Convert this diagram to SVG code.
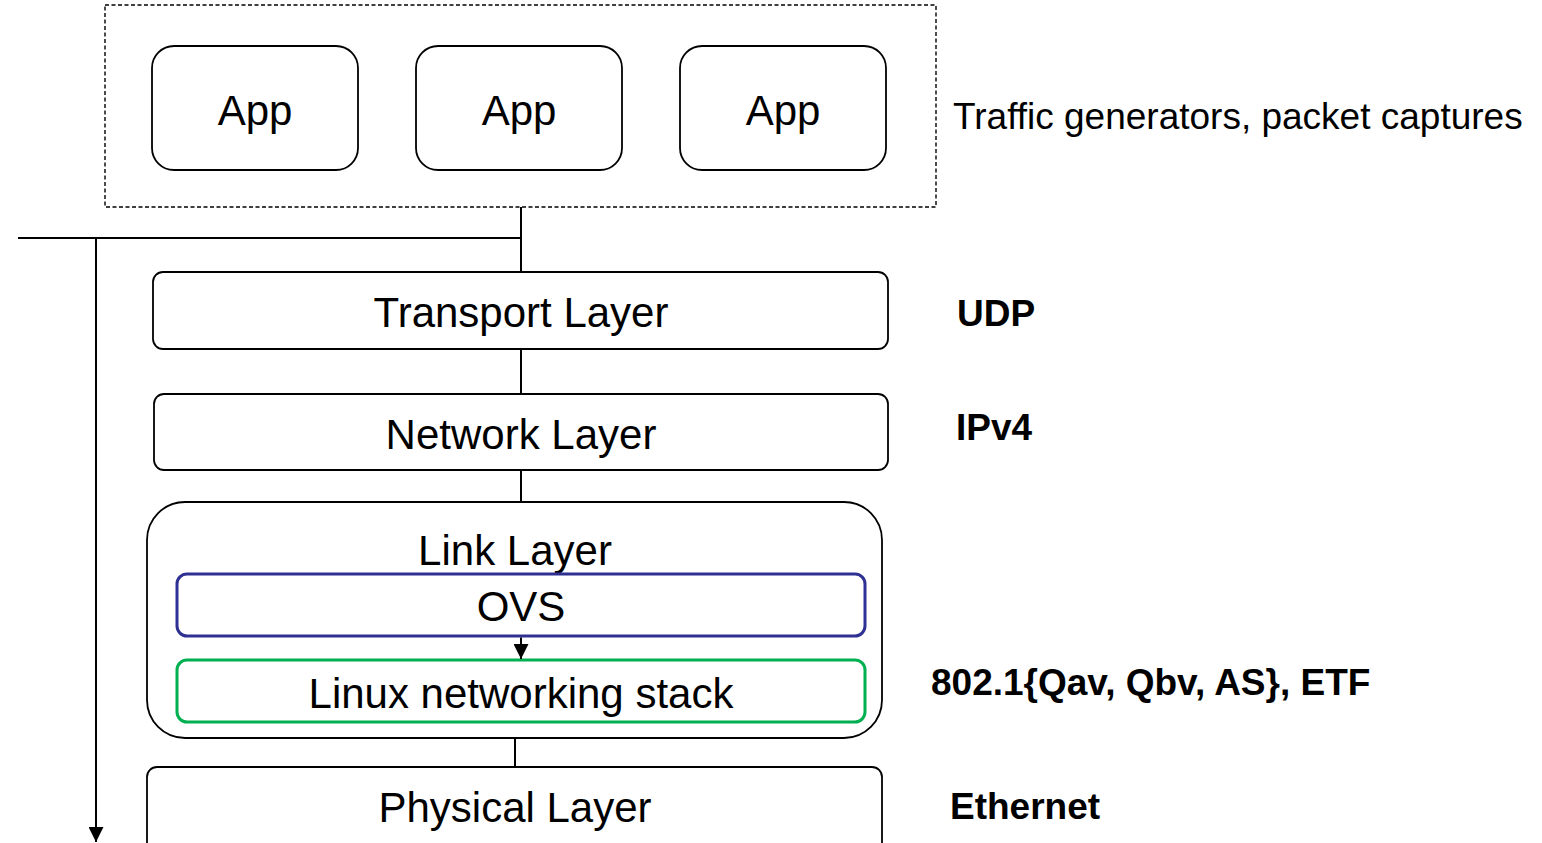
<svg xmlns="http://www.w3.org/2000/svg" width="1542" height="843" viewBox="0 0 1542 843">
  <style>
    .box { fill: #ffffff; stroke: #000000; stroke-width: 1.8; }
    .lbl { font-family: "Liberation Sans", Arial, sans-serif; fill: #000000; text-anchor: middle; }
    .side { font-family: "Liberation Sans", Arial, sans-serif; fill: #000000; }
    .bold { font-weight: bold; font-size: 37px; }
    .wire { stroke: #000000; stroke-width: 2; fill: none; }
  </style>
  <defs>
    <marker id="arrow" viewBox="0 0 15 15" refX="15" refY="7.5" markerWidth="15" markerHeight="15" markerUnits="userSpaceOnUse" orient="auto">
      <path d="M0,0 L15,7.5 L0,15 Z" fill="#000000"/>
    </marker>
  </defs>
  <rect width="1542" height="843" fill="#ffffff"/>

  <!-- application group -->
  <g id="apps">
    <rect x="105" y="5" width="831" height="202" fill="none" stroke="#000000" stroke-width="1.4" stroke-dasharray="4,2.5"/>
    <g id="app1">
      <rect class="box" x="152" y="46" width="206" height="124" rx="22"/>
      <text class="lbl" x="255" y="125" font-size="42">App</text>
    </g>
    <g id="app2">
      <rect class="box" x="416" y="46" width="206" height="124" rx="22"/>
      <text class="lbl" x="519" y="125" font-size="42">App</text>
    </g>
    <g id="app3">
      <rect class="box" x="680" y="46" width="206" height="124" rx="22"/>
      <text class="lbl" x="783" y="125" font-size="42">App</text>
    </g>
  </g>
  <text class="side" x="953" y="129" font-size="37">Traffic generators, packet captures</text>

  <g id="transport">
    <rect class="box" x="153" y="272" width="735" height="77" rx="10"/>
    <text class="lbl" x="521" y="327" font-size="42">Transport Layer</text>
  </g>
  <text class="side bold" x="957" y="326">UDP</text>

  <g id="network">
    <rect class="box" x="154" y="394" width="734" height="76" rx="10"/>
    <text class="lbl" x="521" y="449" font-size="42">Network Layer</text>
  </g>
  <text class="side bold" x="956" y="440">IPv4</text>

  <g id="link">
    <rect class="box" x="147" y="502" width="735" height="236" rx="38"/>
    <text class="lbl" x="515" y="565" font-size="42">Link Layer</text>
  </g>
  <g id="ovs">
    <rect x="177" y="574" width="688" height="62" rx="10" fill="#ffffff" stroke="#2E3192" stroke-width="3"/>
    <text class="lbl" x="521" y="621" font-size="42">OVS</text>
  </g>
  <g id="linux">
    <rect x="177" y="660" width="688" height="62" rx="10" fill="#ffffff" stroke="#00B050" stroke-width="3"/>
    <text class="lbl" x="521" y="708" font-size="42">Linux networking stack</text>
  </g>
  <text class="side bold" x="931" y="695">802.1{Qav, Qbv, AS}, ETF</text>

  <g id="physical">
    <rect class="box" x="147" y="767" width="735" height="90" rx="10"/>
    <text class="lbl" x="515" y="822" font-size="42">Physical Layer</text>
  </g>
  <text class="side bold" x="950" y="819">Ethernet</text>

  <!-- connectors, drawn on top of the boxes -->
  <g id="connectors">
    <path class="wire" d="M521,207 L521,272"/>
    <path class="wire" d="M18,238 L521,238"/>
    <path class="wire" d="M96,238 L96,842" marker-end="url(#arrow)"/>
    <path class="wire" d="M521,637.5 L521,659" marker-end="url(#arrow)"/>
    <path class="wire" d="M521,349 L521,394"/>
    <path class="wire" d="M521,470 L521,502"/>
    <path class="wire" d="M515,738 L515,767"/>
  </g>
</svg>
